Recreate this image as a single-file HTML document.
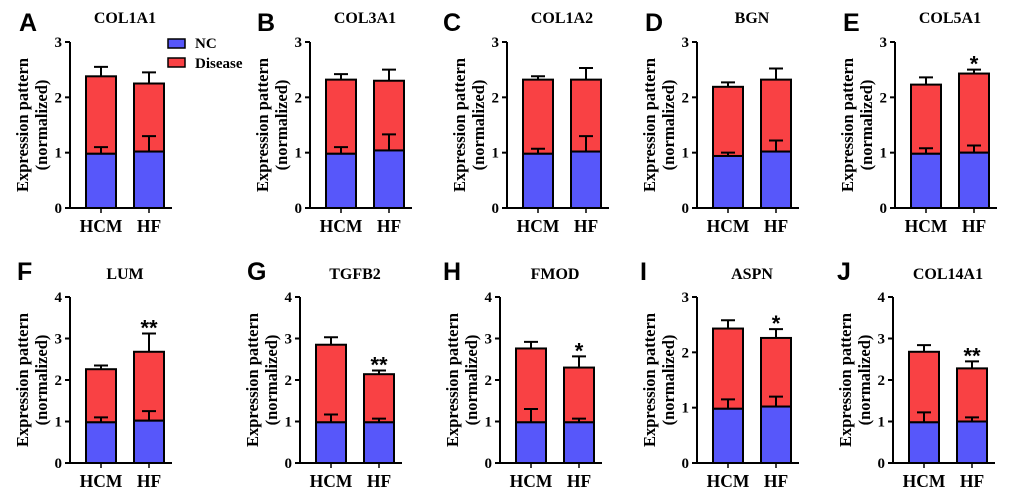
<!DOCTYPE html>
<html><head><meta charset="utf-8"><style>
body{margin:0;background:#fff}
svg{display:block}
.t{font-family:"Liberation Serif",serif;font-weight:bold}
.l{font-family:"Liberation Sans",sans-serif;font-weight:bold}
</style></head><body>
<svg id="c" width="1020" height="493" viewBox="0 0 1020 493"></svg>
<script>
const genes=["COL1A1","COL3A1","COL1A2","BGN","COL5A1","LUM","TGFB2","FMOD","ASPN","COL14A1"];
const letters=["A","B","C","D","E","F","G","H","I","J"];
const groups=["HCM","HF"];
const yMax=[3,3,3,3,3,4,4,4,3,4];
const ncMean=[[0.98,1.02],[0.98,1.04],[0.98,1.02],[0.94,1.02],[0.98,1.0],[0.98,1.02],[0.98,0.98],[0.98,0.98],[0.98,1.02],[0.98,1.0]];
const ncErr=[[1.1,1.3],[1.1,1.33],[1.07,1.3],[1.0,1.22],[1.08,1.13],[1.1,1.25],[1.17,1.07],[1.3,1.07],[1.15,1.2],[1.22,1.1]];
const total=[[2.38,2.25],[2.32,2.3],[2.32,2.32],[2.19,2.32],[2.23,2.43],[2.26,2.68],[2.85,2.14],[2.76,2.3],[2.43,2.26],[2.68,2.28]];
const totalErr=[[2.55,2.45],[2.42,2.5],[2.38,2.53],[2.27,2.52],[2.36,2.5],[2.35,3.12],[3.03,2.23],[2.92,2.57],[2.58,2.42],[2.84,2.45]];
const stars=["","","","","*","**","**","*","*","**"];
const axX=[70,310,507,697,895,70,300,500,697,893];
const letX=[19,257,443,645,843,17,247,443,640,837];
const svg=document.getElementById('c');
const NS="http://www.w3.org/2000/svg";
function mk(tag,at,txt){const e=document.createElementNS(NS,tag);for(const k in at)e.setAttribute(k,at[k]);if(txt!==undefined)e.textContent=txt;svg.appendChild(e);return e;}
for(let p=0;p<10;p++){
  const ax=axX[p],row=p<5?0:1;
  const y0=row?463:208,y1=row?297:42;
  const ys=v=>y0-(v/yMax[p])*(y0-y1);
  let e=mk('text',{x:letX[p],y:row?280:31,class:'l','font-size':25},letters[p]);
  
  
  e=mk('text',{x:ax+55,y:row?279:23,class:'t','font-size':16,'text-anchor':'middle'},genes[p]);
  
  
  const cy=(y0+y1)/2;
  e=mk('text',{x:0,y:0,class:'t','font-size':16.5,'text-anchor':'middle',transform:`translate(${ax-42},${cy}) rotate(-90)`},'Expression pattern');
  
  
  e=mk('text',{x:0,y:0,class:'t','font-size':16.5,'text-anchor':'middle',transform:`translate(${ax-23},${cy}) rotate(-90)`},'(normalized)');
  
  
  for(let g=0;g<2;g++){
    const bx=ax+16+g*48,bw=30,cx=bx+bw/2;
    e=mk('path',{d:`M${cx},${ys(total[p][g])}V${ys(totalErr[p][g])}M${cx-7},${ys(totalErr[p][g])}H${cx+7}`,stroke:'#000','stroke-width':2,fill:'none'});
    
    
    e=mk('rect',{x:bx,y:ys(total[p][g]),width:bw,height:ys(ncMean[p][g])-ys(total[p][g]),fill:'#f94144',stroke:'#000','stroke-width':2});
    
    
    e=mk('rect',{x:bx,y:ys(ncMean[p][g]),width:bw,height:y0-ys(ncMean[p][g]),fill:'#5757fa',stroke:'#000','stroke-width':2});
    
    
    e=mk('path',{d:`M${cx},${ys(ncMean[p][g])}V${ys(ncErr[p][g])}M${cx-7},${ys(ncErr[p][g])}H${cx+7}`,stroke:'#000','stroke-width':2,fill:'none'});
    
    
    e=mk('text',{x:cx,y:y0+24,class:'t','font-size':17.5,'text-anchor':'middle'},groups[g]);
    
    
    mk('line',{x1:cx,y1:y0,x2:cx,y2:y0+5,stroke:'#000','stroke-width':1.5});
    if(g===1&&stars[p]){
      e=mk('text',{x:cx,y:ys(totalErr[p][g])+2,class:'l','font-size':22,'text-anchor':'middle'},stars[p]);
      
      
    }
  }
  e=mk('path',{d:`M${ax},${y1}V${y0}H${ax+102}`,stroke:'#000','stroke-width':2,fill:'none'});
  
  
  for(let t=0;t<=yMax[p];t++){
    mk('line',{x1:ax-5,y1:ys(t),x2:ax,y2:ys(t),stroke:'#000','stroke-width':2});
    e=mk('text',{x:ax-8,y:ys(t)+5,class:'t','font-size':15,'text-anchor':'end'},String(t));
    
    
  }
}
let e=mk('rect',{x:168,y:39,width:17,height:9,fill:'#5757fa',stroke:'#000','stroke-width':1.5});


e=mk('text',{x:195,y:48,class:'t','font-size':15},'NC');


e=mk('rect',{x:168,y:58,width:17,height:9,fill:'#f94144',stroke:'#000','stroke-width':1.5});


e=mk('text',{x:195,y:68,class:'t','font-size':15},'Disease');


</script>
</body></html>
